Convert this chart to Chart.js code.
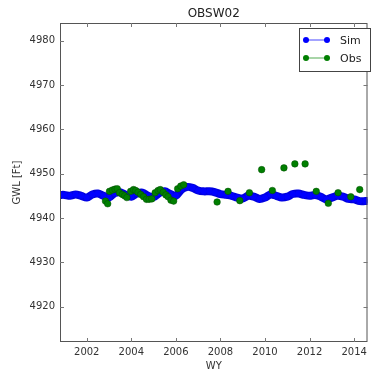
<!DOCTYPE html>
<html>
<head>
<meta charset="utf-8">
<script src="https://cdn.jsdelivr.net/npm/chart.js@4.4.0/dist/chart.umd.min.js"></script>
<style>
  html, body { margin: 0; padding: 0; background: #fff; }
</style>
</head>
<body>
<canvas id="chart" width="372" height="372"></canvas>
<script>
const FONT = "'DejaVu Sans', 'Liberation Sans', sans-serif";

// Simulated GWL (roughly quarterly)
const simYears = [
  2000.8, 2001.0, 2001.25, 2001.5, 2001.75, 2002.0, 2002.25, 2002.5, 2002.75,
  2003.0, 2003.25, 2003.5, 2003.75, 2004.0, 2004.25, 2004.5, 2004.75,
  2005.0, 2005.25, 2005.5, 2005.75, 2006.0, 2006.25, 2006.5, 2006.75,
  2007.0, 2007.25, 2007.5, 2007.75, 2008.0, 2008.25, 2008.5, 2008.75,
  2009.0, 2009.25, 2009.5, 2009.75, 2010.0, 2010.25, 2010.5, 2010.75,
  2011.0, 2011.25, 2011.5, 2011.75, 2012.0, 2012.25, 2012.5, 2012.75,
  2013.0, 2013.25, 2013.5, 2013.75, 2014.0, 2014.25, 2014.5, 2014.75,
];
const simValues = [
  4945.2, 4945.2, 4945.0, 4945.3, 4945.0, 4944.6, 4945.3, 4945.5, 4945.0,
  4944.6, 4945.6, 4945.8, 4945.2, 4944.8, 4945.5, 4945.7, 4945.0,
  4944.7, 4945.6, 4946.0, 4945.4, 4945.0, 4946.4, 4947.0, 4946.8,
  4946.2, 4946.0, 4946.0, 4945.8, 4945.4, 4945.2, 4945.0, 4944.6,
  4944.4, 4945.0, 4944.8, 4944.3, 4944.6, 4945.3, 4945.0, 4944.6,
  4944.8, 4945.4, 4945.5, 4945.2, 4945.0, 4945.2, 4944.8, 4944.2,
  4944.6, 4945.0, 4944.8, 4944.3, 4944.2, 4943.8, 4943.8, 4943.8,
];

// Observed GWL
const obsYears = [
  2002.84, 2002.94, 2003.02, 2003.15, 2003.27, 2003.37, 2003.47, 2003.6,
  2003.7, 2003.8, 2003.97, 2004.1, 2004.2, 2004.3, 2004.42, 2004.55,
  2004.68, 2004.8, 2004.92, 2005.07, 2005.2, 2005.3, 2005.43, 2005.55,
  2005.65, 2005.78, 2005.9, 2006.08, 2006.22, 2006.35,
  2007.85, 2008.34, 2008.87, 2009.3, 2009.85, 2010.33, 2010.85, 2011.34,
  2011.8, 2012.3, 2012.84, 2013.28, 2013.85, 2014.25,
];
const obsValues = [
  4943.8, 4943.2, 4946.0, 4946.3, 4946.5, 4946.6, 4945.7, 4945.3,
  4945.0, 4944.6, 4946.0, 4946.4, 4946.2, 4945.8, 4945.3, 4944.8,
  4944.2, 4944.2, 4944.3, 4945.7, 4946.2, 4946.4, 4945.8, 4945.2,
  4944.8, 4944.0, 4943.8, 4946.6, 4947.2, 4947.5,
  4943.6, 4946.0, 4943.9, 4945.7, 4950.9, 4946.2, 4951.3, 4952.2,
  4952.2, 4946.0, 4943.3, 4945.7, 4944.8, 4946.4,
];

const xTicks = [2002, 2004, 2006, 2008, 2010, 2012, 2014];
const yTicks = [4920, 4930, 4940, 4950, 4960, 4970, 4980];

const seriesNames = ["Sim", "Obs"];
const seriesColors = ["#0000ff", "#007f00"];
const seriesLineColors = ["rgba(80, 80, 255, 0.7)", "rgba(60, 160, 60, 0.6)"];

const toPoints = (xs, ys) => xs.map((x, i) => ({ x, y: ys[i] }));

// frame, inward ticks, title, axis titles and legend, matplotlib style
const decor = {
  id: "decor",
  afterDraw(chart) {
    const { ctx, chartArea: a, scales } = chart;
    ctx.save();
    ctx.strokeStyle = "#555";
    ctx.lineWidth = 1;
    ctx.strokeRect(a.left + 0.5, a.top + 0.5, a.right - a.left - 1, a.bottom - a.top - 1);

    ctx.strokeStyle = "#777";
    ctx.beginPath();
    xTicks.forEach((v) => {
      const px = Math.round(scales.x.getPixelForValue(v)) + 0.5;
      ctx.moveTo(px, a.bottom); ctx.lineTo(px, a.bottom - 4);
      ctx.moveTo(px, a.top); ctx.lineTo(px, a.top + 4);
    });
    yTicks.forEach((v) => {
      const py = Math.round(scales.y.getPixelForValue(v)) + 0.5;
      ctx.moveTo(a.left, py); ctx.lineTo(a.left + 4, py);
      ctx.moveTo(a.right, py); ctx.lineTo(a.right - 4, py);
    });
    ctx.stroke();

    ctx.fillStyle = "#222";
    ctx.textAlign = "center";
    ctx.textBaseline = "middle";
    ctx.font = "12px " + FONT;
    ctx.fillText("OBSW02", (a.left + a.right) / 2, 14);

    ctx.font = "10px " + FONT;
    ctx.fillStyle = "#333";
    ctx.fillText("WY", (a.left + a.right) / 2, 366);
    ctx.save();
    ctx.translate(17, (a.top + a.bottom) / 2);
    ctx.rotate(-Math.PI / 2);
    ctx.fillText("GWL [Ft]", 0, 0);
    ctx.restore();

    // legend
    const bx = 299, by = 28, bw = 71, bh = 43;
    ctx.fillStyle = "#fff";
    ctx.fillRect(bx, by, bw, bh);
    ctx.strokeStyle = "#444";
    ctx.strokeRect(bx + 0.5, by + 0.5, bw, bh);
    ctx.font = "11px " + FONT;
    ctx.textAlign = "left";
    seriesNames.forEach((name, i) => {
      const y = by + 12 + i * 18;
      ctx.strokeStyle = seriesLineColors[i];
      ctx.lineWidth = 1.5;
      ctx.beginPath();
      ctx.moveTo(306, y); ctx.lineTo(327, y);
      ctx.stroke();
      ctx.fillStyle = seriesColors[i];
      [306, 327].forEach((x) => {
        ctx.beginPath();
        ctx.arc(x, y, 3, 0, Math.PI * 2);
        ctx.fill();
      });
      ctx.fillStyle = "#222";
      ctx.fillText(name, 340, y + 1);
    });
    ctx.restore();
  },
};

new Chart(document.getElementById("chart"), {
  type: "line",
  data: {
    datasets: [
      {
        label: seriesNames[0],
        data: toPoints(simYears, simValues),
        borderColor: "#0000e0",
        backgroundColor: seriesColors[0],
        borderWidth: 8,
        pointRadius: 3,
        pointBorderWidth: 0,
        tension: 0.3,
        order: 2,
      },
      {
        label: seriesNames[1],
        data: toPoints(obsYears, obsValues),
        borderColor: "#004d00",
        backgroundColor: seriesColors[1],
        showLine: false,
        pointRadius: 3.3,
        pointBorderWidth: 0.5,
        order: 1,
      },
    ],
  },
  options: {
    responsive: false,
    animation: false,
    layout: { padding: { top: 23, right: 0, left: 0, bottom: 0 } },
    plugins: { legend: { display: false }, title: { display: false }, tooltip: { enabled: false } },
    scales: {
      x: {
        type: "linear",
        min: 2000.8,
        max: 2014.6,
        grid: { display: false, drawTicks: false },
        border: { display: false },
        afterFit: (s) => { s.height = 30; },
        ticks: {
          stepSize: 2,
          includeBounds: false,
          padding: 4,
          color: "#333",
          font: { family: FONT, size: 10 },
          maxRotation: 0,
          callback: (v) => String(v),
        },
      },
      y: {
        min: 4912,
        max: 4984,
        grid: { display: false, drawTicks: false },
        border: { display: false },
        afterFit: (s) => { s.width = 60; },
        ticks: {
          stepSize: 10,
          includeBounds: false,
          padding: 5,
          color: "#333",
          font: { family: FONT, size: 10 },
          callback: (v) => String(v),
        },
      },
    },
  },
  plugins: [decor],
});
</script>
</body>
</html>
